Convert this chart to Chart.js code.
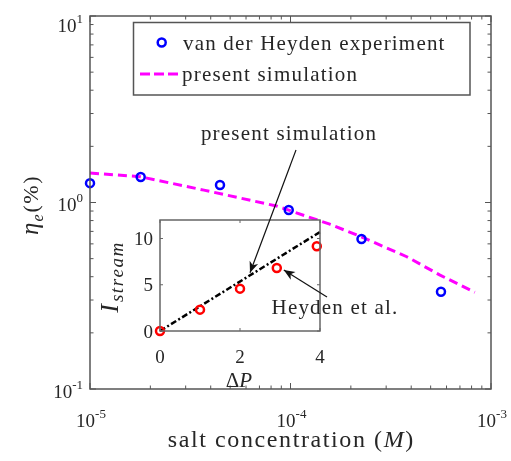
<!DOCTYPE html>
<html><head><meta charset="utf-8">
<script src="https://cdn.jsdelivr.net/npm/chart.js@4.4.1/dist/chart.umd.min.js"></script>
<style>
html,body{margin:0;padding:0;background:#fff;}
#wrap{position:relative;width:511px;height:461px;}
#wrap canvas{position:absolute;left:0;top:0;}
</style></head><body>
<div id="wrap"><canvas id="main" width="511" height="461"></canvas><canvas id="inset" width="511" height="461"></canvas></div>
<script>
// ---- data ----
const expConc = [1e-5, 1.79e-5, 4.45e-5, 9.8e-5, 2.26e-4, 5.63e-4];
const expEff  = [1.27, 1.37, 1.24, 0.912, 0.637, 0.332];
const simConc = [1e-5, 1.78e-5, 3.7e-5, 8.5e-5, 1.57e-4, 2.27e-4, 3.8e-4, 5.57e-4, 8.3e-4];
const simEff  = [1.44, 1.375, 1.165, 0.958, 0.765, 0.653, 0.512, 0.408, 0.33];
const insetExpP = [0, 1, 2, 2.92, 3.92];
const insetExpI = [0, 2.31, 4.58, 6.81, 9.16];
const insetSimP = [0, 4];
const insetSimI = [0, 10.7];
const xDecades = [-5, -4, -3];
const yDecades = [-1, 0, 1];
const insetXTicks = [0, 2, 4];
const insetYTicks = [0, 5, 10];
const legendLabels = ['van der Heyden experiment', 'present simulation'];

// ---- styles ----
const SERIF = '"Liberation Serif", "Times New Roman", serif';
const INK = '#262626';
const AXIS = '#555555';
const BLUE = '#0000ff', MAGENTA = '#ff00ff', RED = '#ff0000';

function runsWidth(ctx, runs){ let w=0; for(const r of runs){ ctx.font=r.font; for(const ch of r.t){ w += ctx.measureText(ch).width + (r.sp||0);} } return w; }
function drawRuns(ctx, runs, x, y, align){
  const w = runsWidth(ctx, runs);
  let cx = align==='center' ? x - w/2 : (align==='right' ? x - w : x);
  ctx.textAlign='left'; ctx.textBaseline='alphabetic';
  for (const r of runs){ ctx.font=r.font; ctx.fillStyle=r.color||INK;
    for (const ch of r.t){ ctx.fillText(ch, cx, y + (r.dy||0)); cx += ctx.measureText(ch).width + (r.sp||0); } }
}
function seg(ctx,x1,y1,x2,y2){ ctx.beginPath(); ctx.moveTo(x1,y1); ctx.lineTo(x2,y2); ctx.stroke(); }
function arrow(ctx, x1,y1,x2,y2){
  ctx.save(); ctx.strokeStyle='#111'; ctx.fillStyle='#111'; ctx.lineWidth=1.2;
  seg(ctx,x1,y1,x2,y2);
  const a = Math.atan2(y2-y1, x2-x1), L=11, W=4.5, B=8;
  const ux=Math.cos(a), uy=Math.sin(a), nx=-uy, ny=ux;
  ctx.beginPath();
  ctx.moveTo(x2,y2);
  ctx.lineTo(x2-ux*L+nx*W, y2-uy*L+ny*W);
  ctx.lineTo(x2-ux*B, y2-uy*B);
  ctx.lineTo(x2-ux*L-nx*W, y2-uy*L-ny*W);
  ctx.closePath(); ctx.fill();
  ctx.restore();
}

// ---- main chart decorations ----
const mainDecor = {
  id:'mainDecor',
  afterDraw(chart){
    const {ctx, chartArea:a, scales:{x, y}} = chart;
    ctx.save();
    ctx.strokeStyle = AXIS; ctx.lineWidth = 1;
    // log ticks on all four sides
    for (let d = xDecades[0]; d <= xDecades[xDecades.length-1]; d++){
      for (let k=1;k<10;k++){
        const v = k*Math.pow(10,d); if (v > Math.pow(10, xDecades[xDecades.length-1])) break;
        const px = x.getPixelForValue(v); const L = k===1 ? 6 : 3.5;
        seg(ctx, px, a.bottom, px, a.bottom-L); seg(ctx, px, a.top, px, a.top+L);
      }
    }
    for (let d = yDecades[0]; d <= yDecades[yDecades.length-1]; d++){
      for (let k=1;k<10;k++){
        const v = k*Math.pow(10,d); if (v > Math.pow(10, yDecades[yDecades.length-1])) break;
        const py = y.getPixelForValue(v); const L = k===1 ? 6 : 3.5;
        seg(ctx, a.left, py, a.left+L, py); seg(ctx, a.right, py, a.right-L, py);
      }
    }
    ctx.lineWidth = 1.5;
    ctx.strokeRect(a.left, a.top, a.right-a.left, a.bottom-a.top);
    // tick labels
    const base = '19px '+SERIF, sup = '13px '+SERIF;
    for (const d of xDecades){
      const px = x.getPixelForValue(Math.pow(10,d));
      drawRuns(ctx, [{t:'10', font:base},{t:String(d), font:sup, dy:-9}], px+1, a.bottom+38, 'center');
    }
    for (const d of yDecades){
      const py = y.getPixelForValue(Math.pow(10,d));
      const cy = Math.max(py+2, a.top+9);
      drawRuns(ctx, [{t:'10', font:base},{t:String(d), font:sup, dy:-9}], a.left-7, cy+6.5, 'right');
    }
    // axis titles
    drawRuns(ctx, [{t:'salt concentration (', font:'24px '+SERIF, sp:1.6},{t:'M', font:'italic 24px '+SERIF, sp:1.6},{t:')', font:'24px '+SERIF}], (a.left+a.right)/2, a.bottom+58, 'center');
    ctx.save(); ctx.translate(31, 205); ctx.rotate(-Math.PI/2);
    drawRuns(ctx, [{t:'η', font:'italic 25px '+SERIF, sp:1},{t:'e', font:'italic 16px '+SERIF, dy:5, sp:2},{t:'(%)', font:'22px '+SERIF, sp:1.5}], 0, 7, 'center');
    ctx.restore();
    // legend
    const lx=133.5, ly=22.5, lw=336.5, lh=72.5;
    ctx.fillStyle='#fff'; ctx.fillRect(lx,ly,lw,lh);
    ctx.strokeStyle=AXIS; ctx.lineWidth=1.5; ctx.strokeRect(lx,ly,lw,lh);
    ctx.strokeStyle=BLUE; ctx.lineWidth=2.5; ctx.beginPath(); ctx.arc(lx+28.2, ly+20, 4, 0, Math.PI*2); ctx.stroke();
    drawRuns(ctx, [{t:legendLabels[0], font:'21px '+SERIF, sp:1.2}], lx+49.5, ly+27, 'left');
    ctx.strokeStyle=MAGENTA; ctx.lineWidth=3; ctx.setLineDash([10,4]); seg(ctx, lx+6.5, ly+51.5, lx+44.5, ly+51.5); ctx.setLineDash([]);
    drawRuns(ctx, [{t:legendLabels[1], font:'21px '+SERIF, sp:1.2}], lx+48.5, ly+58, 'left');
    ctx.restore();
  }
};

new Chart(document.getElementById('main'), {
  type:'scatter',
  data:{datasets:[
    {label:legendLabels[0], data: expConc.map((c,i)=>({x:c, y:expEff[i]})), pointStyle:'circle', pointRadius:4, pointBorderWidth:2.5, borderColor:BLUE, backgroundColor:'rgba(0,0,0,0)', clip:false, order:1},
    {label:legendLabels[1], data: simConc.map((c,i)=>({x:c, y:simEff[i]})), showLine:true, pointRadius:0, borderColor:MAGENTA, borderWidth:3, borderDash:[9,5], tension:0, clip:false, order:2}
  ]},
  options:{
    responsive:false, animation:false, devicePixelRatio:1,
    layout:{padding:{left:0, right:20, top:16, bottom:0}},
    plugins:{legend:{display:false}, tooltip:{enabled:false}},
    scales:{
      x:{type:'logarithmic', min:1e-5, max:1e-3, grid:{display:false}, border:{display:false}, ticks:{display:false}, afterFit(s){ s.height=72; }},
      y:{type:'logarithmic', min:0.1, max:10, grid:{display:false}, border:{display:false}, ticks:{display:false}, afterFit(s){ s.width=90; }}
    }
  },
  plugins:[mainDecor]
});

// ---- inset chart ----
const insetDecor = {
  id:'insetDecor',
  beforeDatasetsDraw(chart){
    const {ctx, chartArea:a} = chart;
    ctx.save(); ctx.fillStyle='#fff'; ctx.fillRect(a.left, a.top, a.right-a.left, a.bottom-a.top); ctx.restore();
  },
  afterDraw(chart){
    const {ctx, chartArea:a, scales:{x, y}} = chart;
    ctx.save();
    ctx.strokeStyle='#666'; ctx.lineWidth=1;
    for (const v of insetXTicks){ const px=x.getPixelForValue(v); seg(ctx,px,a.bottom,px,a.bottom-3); seg(ctx,px,a.top,px,a.top+3); }
    for (const v of insetYTicks){ const py=y.getPixelForValue(v); seg(ctx,a.left,py,a.left+3,py); seg(ctx,a.right,py,a.right-3,py); }
    ctx.lineWidth=1.5; ctx.strokeRect(a.left, a.top, a.right-a.left, a.bottom-a.top);
    const f = '19px '+SERIF;
    for (const v of insetXTicks){ drawRuns(ctx,[{t:String(v), font:f}], x.getPixelForValue(v), a.bottom+32, 'center'); }
    for (const v of insetYTicks){ drawRuns(ctx,[{t:String(v), font:f}], a.left-7, y.getPixelForValue(v)+6.5, 'right'); }
    drawRuns(ctx,[{t:'Δ', font:'21px '+SERIF},{t:'P', font:'italic 21px '+SERIF}], (a.left+a.right)/2-1, a.bottom+56, 'center');
    ctx.save(); ctx.translate(110, 277); ctx.rotate(-Math.PI/2);
    drawRuns(ctx,[{t:'I', font:'italic 26px '+SERIF, sp:2},{t:'stream', font:'italic 19px '+SERIF, dy:5, sp:1.5}], 0, 8, 'center');
    ctx.restore();
    // annotations
    const tipSim = {x:x.getPixelForValue(2.25), y:y.getPixelForValue(6.3)};
    arrow(ctx, 296, 150, tipSim.x, tipSim.y);
    drawRuns(ctx,[{t:'present simulation', font:'21px '+SERIF, sp:1.2}], 289, 140, 'center');
    const px = x.getPixelForValue(insetExpP[3]), py = y.getPixelForValue(insetExpI[3]);
    arrow(ctx, 327, 297, px+7, py+2);
    drawRuns(ctx,[{t:'Heyden et al.', font:'21px '+SERIF, sp:1.2}], 335, 314, 'center');
    ctx.restore();
  }
};

new Chart(document.getElementById('inset'), {
  type:'scatter',
  data:{datasets:[
    {label:'Heyden et al.', data: insetExpP.map((p,i)=>({x:p, y:insetExpI[i]})), pointStyle:'circle', pointRadius:4, pointBorderWidth:2.5, borderColor:RED, backgroundColor:'rgba(0,0,0,0)', clip:false, order:1},
    {label:'present simulation', data: insetSimP.map((p,i)=>({x:p, y:insetSimI[i]})), showLine:true, pointRadius:0, borderColor:'#000', borderWidth:2.5, borderDash:[6,2.5,2,2.5], clip:false, order:2}
  ]},
  options:{
    responsive:false, animation:false, devicePixelRatio:1,
    layout:{padding:{left:120, right:191, top:220, bottom:100}},
    plugins:{legend:{display:false}, tooltip:{enabled:false}},
    scales:{
      x:{type:'linear', min:0, max:4, grid:{display:false}, border:{display:false}, ticks:{display:false}, afterFit(s){ s.height=30; }},
      y:{type:'linear', min:0, max:12, grid:{display:false}, border:{display:false}, ticks:{display:false}, afterFit(s){ s.width=40; }}
    }
  },
  plugins:[insetDecor]
});
</script>
</body></html>
